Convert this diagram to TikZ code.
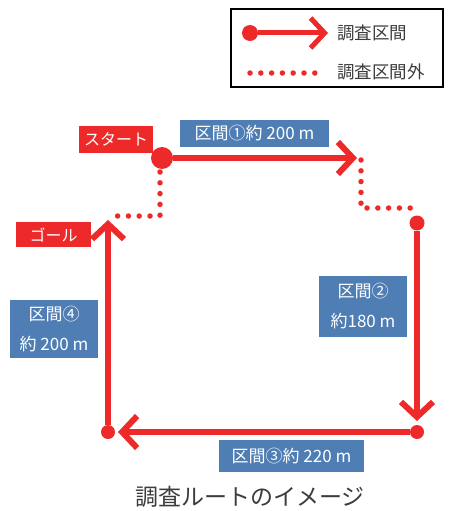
\documentclass[tikz,border=0pt]{standalone}
\usepackage{fontspec}
\setmainfont{Noto Sans CJK JP}
\usetikzlibrary{arrows.meta}
\definecolor{rred}{RGB}{237,41,41}
\definecolor{lblue}{RGB}{79,126,181}
\definecolor{tgray}{RGB}{60,60,60}
\begin{document}
\begin{tikzpicture}[x=1pt,y=-1pt,
  route/.style={draw=rred, line width=6pt, -{Straight Barb[length=15pt,width=32pt,line width=6pt]}},
  legroute/.style={draw=rred, line width=5pt, -{Straight Barb[length=14pt,width=30pt,line width=5pt]}},
  dots/.style={draw=rred, line width=5.5pt, line cap=round, dash pattern=on 0pt off 10.8pt},
  bigdot/.style={circle, fill=rred, inner sep=0pt, minimum size=#1},
  redlab/.style={fill=rred, text=white, font=\fontsize{16}{18}\selectfont, inner sep=0pt},
  bluelab/.style={fill=lblue, text=white, font=\fontsize{17}{30}\selectfont, inner sep=0pt, align=center},
  legtext/.style={text=tgray, font=\fontsize{17.5}{20}\selectfont, anchor=west, inner sep=0pt},
  ]
\useasboundingbox (0,0) rectangle (449,511);
% legend
\node[draw=black, line width=1.5pt, minimum width=212pt, minimum height=78pt, inner sep=0pt] (legend) at (337,48) {};
\node[bigdot=16pt] (ldot) at (250,33) {};
\coordinate (ltip) at (328,33);
\draw[legroute] (ldot) -- (ltip);
\node[legtext] (lt1) at (337,33) {調査区間};
\coordinate (la) at (250,73);
\coordinate (lb) at (320,73);
\draw[dots] (la) -- (lb);
\node[legtext] (lt2) at (337,72) {調査区間外};
% route points
\node[bigdot=22pt] (start) at (162,158) {};
\node[bigdot=15pt] (d2) at (417,223) {};
\node[bigdot=14pt] (d3) at (417,432) {};
\node[bigdot=14pt] (d4) at (108,432) {};
\coordinate (t1) at (357,158);
\coordinate (t2) at (417,421);
\coordinate (t3) at (118,432);
\coordinate (t4) at (108,220);
\draw[route] (start) -- (t1);
\draw[route] (d2) -- (t2);
\draw[route] (d3) -- (t3);
\draw[route] (d4) -- (t4);
% dotted
\coordinate (p1) at (160,172);
\coordinate (p2) at (160,216);
\coordinate (p3) at (108,216);
\draw[dots] (p1) -- (p2) -- (p3);
\coordinate (q1) at (361,160);
\coordinate (q2) at (361,208);
\coordinate (q3) at (418,208);
\draw[dots] (q1) -- (q2) -- (q3);
% labels
\node[redlab, minimum width=74pt, minimum height=27pt] (lstart) at (116,139.5) {スタート};
\node[redlab, minimum width=75pt, minimum height=25pt] (lgoal) at (53.5,234.5) {ゴール};
\node[bluelab, minimum width=149pt, minimum height=27pt] (s1) at (254.5,133.5) {区間①約 200 m};
\node[bluelab, minimum width=88pt, minimum height=61pt] (s2) at (363,306.5) {区間②\\約180 m};
\node[bluelab, minimum width=145pt, minimum height=32pt] (s3) at (291.5,456) {区間③約 220 m};
\node[bluelab, minimum width=88pt, minimum height=58pt] (s4) at (54,329) {区間④\\約 200 m};
\node[text=tgray, font=\fontsize{23}{26}\selectfont, inner sep=0pt] (cap) at (250,497) {調査ルートのイメージ};
\end{tikzpicture}
\end{document}
